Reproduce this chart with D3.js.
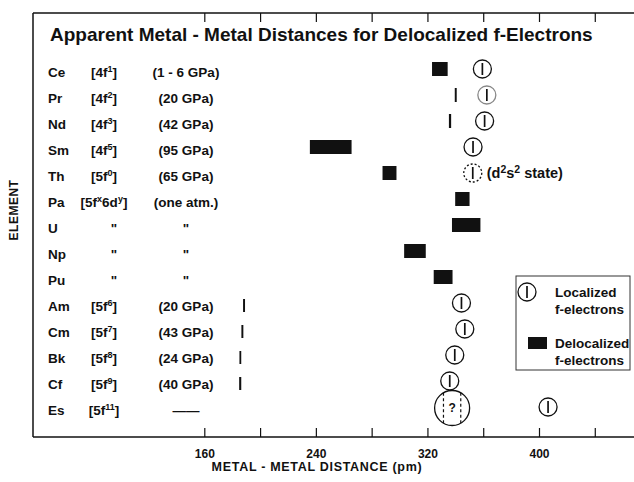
<!DOCTYPE html>
<html><head><meta charset="utf-8">
<script src="https://cdn.jsdelivr.net/npm/d3@7"></script>
<style>
html,body{margin:0;padding:0;background:#fff;}
svg{display:block;}
text{font-family:"Liberation Sans",Arial,Helvetica,sans-serif;font-weight:bold;fill:#111;}
</style></head><body>
<svg id="chart" width="634" height="482"></svg>
<script>
// ---------------- data ----------------
const titleText = "Apparent Metal - Metal Distances for Delocalized f-Electrons";
const xTitle = "METAL - METAL DISTANCE (pm)";
const yTitle = "ELEMENT";
const elements  = ["Ce","Pr","Nd","Sm","Th","Pa","U","Np","Pu","Am","Cm","Bk","Cf","Es"];
const configs   = ["[4f^{1}]","[4f^{2}]","[4f^{3}]","[4f^{5}]","[5f^{0}]","[5f^{x}6d^{y}]","\"","\"","\"","[5f^{6}]","[5f^{7}]","[5f^{8}]","[5f^{9}]","[5f^{11}]"];
const pressures = ["(1 - 6 GPa)","(20 GPa)","(42 GPa)","(95 GPa)","(65 GPa)","(one atm.)","\"","\"","\"","(20 GPa)","(43 GPa)","(24 GPa)","(40 GPa)","\u2014\u2014"];

// delocalized f-electrons: apparent distance ranges (pm)
const delocElements = ["Ce","Pr","Nd","Sm","Th","Pa","U","Np","Pu","Am","Cm","Bk","Cf"];
const delocLow  = [323.3,339.6,335.4,235.7,287.8,339.9,337.6,303.3,324.5,187.8,186.6,185.2,185.0];
const delocHigh = [334.5,341.0,337.0,265.6,297.8,350.2,358.0,318.8,338.0,189.2,188.0,186.3,186.5];

// localized f-electrons (pm)
const locElements = ["Ce","Pr","Nd","Sm","Th","Am","Cm","Bk","Cf","Es"];
const locValues   = [359.4,362.6,361.0,352.7,352.5,344.4,346.8,339.6,336.0,406.5];
const locKind     = ["known","faint","known","known","d2s2","known","known","known","known","known"];
const locNotes    = ["","","","","(d^{2}s^{2} state)","","","","",""];

// uncertain (Es, "?")
const uncertainElements = ["Es"];
const uncertainValues   = [337.7];
const uncertainHalfSpan = [6.2];

const majorTicks = [160,240,320,400];
const minorTicks = [200,280,360,440];

const legendItems = [
  {kind:"loc",   lines:["Localized","f-electrons"]},
  {kind:"deloc", lines:["Delocalized","f-electrons"]}
];

// ---------------- layout ----------------
const svg = d3.select("#chart");
const frameL = 33, frameT = 13, frameB = 437, frameR = 634;
const x = d3.scaleLinear().domain([160,400]).range([204.3,539]);
const y = d3.scalePoint().domain(elements).range([72,410]);
const my = e => y(e) - 3;       // marker row centre
const ink = "#111";

function rich(sel, str, supSize, lift){
  const parts = str.split(/\^\{([^}]*)\}/);
  let raised = false;
  parts.forEach((p,i)=>{
    if(!p) return;
    const t = sel.append("tspan").text(p);
    if(i%2===1){ t.attr("font-size",supSize); if(!raised){t.attr("dy",-lift); raised=true;} }
    else if(raised){ t.attr("dy",lift); raised=false; }
  });
}

// frame
const frame = svg.append("g").attr("stroke",ink).attr("stroke-width",1.5).attr("fill","none");
frame.append("line").attr("x1",frameL).attr("x2",frameL).attr("y1",frameT).attr("y2",frameB);
frame.append("line").attr("x1",frameL).attr("x2",frameR).attr("y1",frameT).attr("y2",frameT);
frame.append("line").attr("x1",frameL).attr("x2",frameR).attr("y1",frameB).attr("y2",frameB);

// axes
const allTicks = majorTicks.concat(minorTicks).sort((a,b)=>a-b);
const bottomAxis = svg.append("g").attr("transform",`translate(0,${frameB})`)
  .call(d3.axisBottom(x).tickValues(allTicks).tickSize(-9).tickSizeOuter(0).tickPadding(12)
    .tickFormat(d=>majorTicks.includes(d)?d:""));
bottomAxis.select(".domain").remove();
bottomAxis.selectAll("line").attr("stroke",ink).attr("stroke-width",1.2);
bottomAxis.selectAll("text").attr("font-size",12).attr("font-family",null).attr("fill",ink);

const topAxis = svg.append("g").attr("transform",`translate(0,${frameT})`)
  .call(d3.axisTop(x).tickValues(allTicks).tickSize(-9).tickSizeOuter(0).tickFormat(""));
topAxis.select(".domain").remove();
topAxis.selectAll("line").attr("stroke",ink).attr("stroke-width",1.2);

// titles
svg.append("text").attr("x",50).attr("y",41).attr("font-size",19).text(titleText);
svg.append("text").attr("x",317).attr("y",471).attr("text-anchor","middle")
  .attr("font-size",12.5).attr("letter-spacing",0.7).text(xTitle);
svg.append("text").attr("transform","translate(18,210) rotate(-90)").attr("text-anchor","middle")
  .attr("font-size",12).attr("letter-spacing",0.5).text(yTitle);

// row labels
const rows = svg.append("g").attr("font-size",13.5);
rows.selectAll(".el").data(elements).join("text").attr("class","el")
  .attr("x",48).attr("y",d=>y(d)).attr("dy","0.36em").text(d=>d);
rows.selectAll(".cf").data(elements).join("text").attr("class","cf")
  .attr("x",(d,i)=>configs[i]==="\""?114:104).attr("y",d=>y(d)).attr("dy","0.36em")
  .attr("text-anchor","middle")
  .each(function(d,i){ rich(d3.select(this), configs[i], 9, 5); });
rows.selectAll(".pr").data(elements).join("text").attr("class","pr")
  .attr("x",186).attr("y",d=>y(d)).attr("dy","0.36em").attr("text-anchor","middle")
  .text((d,i)=>pressures[i]);

// delocalized bars
const barH = 14;
svg.append("g").selectAll("rect").data(delocElements).join("rect")
  .attr("x",(d,i)=>x(delocLow[i]))
  .attr("width",(d,i)=>Math.max(1.8, x(delocHigh[i]) - x(delocLow[i])))
  .attr("y",(d,i)=>my(d) - barH/2 + (i>=9?3:0))
  .attr("height",(d,i)=> i>=9 ? 13 : barH)
  .attr("fill",ink);

// localized circles
const r = 9;
function locMarker(g, cx, cy, kind){
  const c = g.append("circle").attr("cx",cx).attr("cy",cy).attr("r",r)
    .attr("fill","none").attr("stroke",kind==="faint"?"#888":ink).attr("stroke-width",1.3);
  if(kind==="d2s2") c.attr("stroke-dasharray","2,2");
  g.append("line").attr("x1",cx).attr("x2",cx).attr("y1",cy-6).attr("y2",cy+6)
    .attr("stroke",ink).attr("stroke-width",1.7);
}
const locG = svg.append("g");
locElements.forEach((e,i)=>{
  locMarker(locG, x(locValues[i]), my(e), locKind[i]);
  if(locNotes[i]){
    const t = locG.append("text").attr("x",x(locValues[i])+r+5).attr("y",my(e)).attr("dy","0.36em")
      .attr("font-size",14.5);
    rich(t, locNotes[i], 10.5, 5);
  }
});

// uncertain
const R = 17.5;
uncertainElements.forEach((e,i)=>{
  const cx = x(uncertainValues[i]), cy = my(e) + 1;
  locG.append("circle").attr("cx",cx).attr("cy",cy).attr("r",R)
    .attr("fill","none").attr("stroke",ink).attr("stroke-width",1.3);
  [-1,1].forEach(s=>{
    const dx = x(uncertainValues[i]+s*uncertainHalfSpan[i]) - cx;
    const h = Math.sqrt(R*R - dx*dx);
    locG.append("line").attr("x1",cx+dx).attr("x2",cx+dx).attr("y1",cy-h).attr("y2",cy+h)
      .attr("stroke",ink).attr("stroke-width",1.2).attr("stroke-dasharray","3,2.5");
  });
  locG.append("text").attr("x",cx).attr("y",cy).attr("dy","0.36em").attr("text-anchor","middle")
    .attr("font-size",12).text("?");
});

// legend
const lg = svg.append("g");
lg.append("rect").attr("x",516).attr("y",276).attr("width",114).attr("height",94)
  .attr("fill","#fff").attr("stroke","#333").attr("stroke-width",1);
legendItems.forEach((it,i)=>{
  const cy = 292 + i*51;
  if(it.kind==="loc") locMarker(lg, 527, cy, "known");
  else lg.append("rect").attr("x",528).attr("y",cy-6).attr("width",19).attr("height",12).attr("fill",ink);
  it.lines.forEach((s,j)=>{
    lg.append("text").attr("x",555).attr("y",cy + j*17).attr("dy","0.36em").attr("font-size",13.5).text(s);
  });
});
</script>
</body></html>
